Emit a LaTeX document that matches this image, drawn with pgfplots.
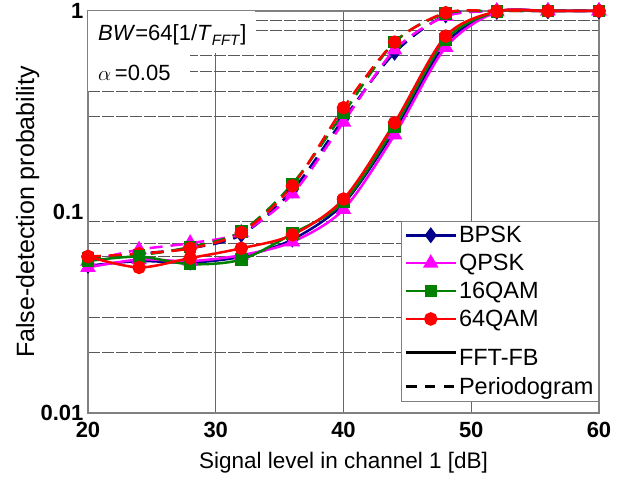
\documentclass[border=0pt]{standalone}
\usepackage{fontspec}
\setmainfont{Liberation Sans}
\usepackage{pgfplots}
\pgfplotsset{compat=1.18}
\definecolor{cB}{RGB}{0,0,140}
\definecolor{cQ}{RGB}{255,0,255}
\definecolor{cG}{RGB}{0,128,0}
\definecolor{cR}{RGB}{255,0,0}
\pgfplotstableread{
x bs qs gs rs bd qd gd rd
20 0.054 0.053 0.057 0.060 0.058 0.057 0.059 0.060
24 0.057 0.058 0.060 0.053 0.062 0.065 0.061 0.062
28 0.056 0.057 0.055 0.059 0.066 0.070 0.067 0.066
32 0.060 0.061 0.058 0.066 0.077 0.079 0.080 0.079
36 0.073 0.071 0.078 0.077 0.128 0.123 0.138 0.135
40 0.110 0.103 0.112 0.116 0.290 0.280 0.310 0.330
44 0.255 0.242 0.265 0.278 0.620 0.640 0.700 0.700
48 0.690 0.660 0.720 0.750 0.950 0.940 0.970 0.980
52 0.990 0.990 0.990 0.995 1.000 1.000 1.000 1.000
56 1.000 1.000 1.000 1.000 1.000 1.000 1.000 1.000
60 1.000 1.000 1.000 1.000 1.000 1.000 1.000 1.000
}\datatab
\begin{document}
\begin{tikzpicture}
\begin{axis}[
  scale only axis, width=511pt, height=402pt,
  xmin=20, xmax=60, ymode=log, ymin=0.01, ymax=1,
  clip=false,
  axis line style={draw=gray, line width=1.2pt},
  xtick={20,30,40,50,60},
  ytick={0.01,0.1,1}, yticklabels={0.01,0.1,1},
  minor ytick={0.02,0.03,0.06,0.07,0.09,0.3,0.4,0.5,0.6,0.8,0.9},
  xmajorgrids, yminorgrids, ymajorgrids=false,
  major grid style={draw=black!60, line width=0.9pt},
  minor grid style={draw=black!65, line width=0.9pt, dash pattern=on 12pt off 2pt},
  tick style={draw=none},
  /pgf/number format/assume math mode=true,
  ticklabel style={font=\fontsize{22}{22}\selectfont\bfseries},
  xticklabel style={yshift=-6pt},
  yticklabel style={xshift=-1pt},
  xlabel={Signal level in channel 1 [dB]},
  ylabel={False-detection probability},
  xlabel style={font=\fontsize{22.5}{22.5}\selectfont, at={(axis description cs:0.5,-0.124)}, anchor=center},
  ylabel style={font=\fontsize{25}{25}\selectfont, at={(axis description cs:-0.118,0.5)}, anchor=center},
  legend style={at={(1,0.478)}, anchor=north east, draw=gray, line width=0.9pt,
    font=\fontsize{23.5}{23.5}\selectfont, row sep=6pt, inner sep=3pt,
    cells={anchor=west}},
  legend image code/.code={\draw[mark repeat=2,mark phase=2] plot coordinates {(0pt,0pt) (25pt,0pt) (50pt,0pt)};},
  every axis plot/.append style={line width=2.5pt, smooth},
]
\fill[white] (rel axis cs:0,1) rectangle ++(167pt,-42pt);
\fill[white] (rel axis cs:0,1) ++(0pt,-42pt) rectangle ++(102pt,-38pt);
\node[anchor=base west, inner sep=0pt, font=\fontsize{22}{22}\selectfont] at (rel axis cs:0,1) [xshift=10pt, yshift=-30pt] {\textit{BW}=64[1/\textit{T}\raisebox{-0.35ex}{\fontsize{15}{15}\selectfont\textit{FFT}}]};
\node[anchor=base west, inner sep=0pt, font=\fontsize{22}{22}\selectfont] at (rel axis cs:0,1) [xshift=10pt, yshift=-70pt] {$\alpha$\,=0.05};

\addplot[cB, dash pattern=on 13pt off 8pt, mark=diamond*, mark size=6pt, mark options={solid}, forget plot] table[x=x,y=bd]{\datatab};
\addplot[cQ, dash pattern=on 13pt off 8pt, mark=triangle*, mark size=6.5pt, mark options={solid}, forget plot] table[x=x,y=qd]{\datatab};
\addplot[cG, dash pattern=on 13pt off 8pt, mark=square*, mark size=5pt, mark options={solid}, forget plot] table[x=x,y=gd]{\datatab};
\addplot[cR, dash pattern=on 13pt off 8pt, mark=*, mark size=5.5pt, mark options={solid}, forget plot] table[x=x,y=rd]{\datatab};

\addplot[cB, mark=diamond*, mark size=6pt] table[x=x,y=bs]{\datatab};
\addlegendentry{BPSK}
\addplot[cQ, mark=triangle*, mark size=6.5pt] table[x=x,y=qs]{\datatab};
\addlegendentry{QPSK}
\addplot[cG, mark=square*, mark size=5pt] table[x=x,y=gs]{\datatab};
\addlegendentry{16QAM}
\addplot[cR, mark=*, mark size=5.5pt] table[x=x,y=rs]{\datatab};
\addlegendentry{64QAM}
\addlegendimage{black, line width=2.5pt}
\addlegendentry{\rule{0pt}{28pt}FFT-FB}
\addlegendimage{black, line width=2.5pt, dash pattern=on 10pt off 9pt}
\addlegendentry{Periodogram}
\end{axis}
\path (current axis.south west) ++(-88pt,-69pt) rectangle ++(635pt,482pt);
\end{tikzpicture}
\end{document}
